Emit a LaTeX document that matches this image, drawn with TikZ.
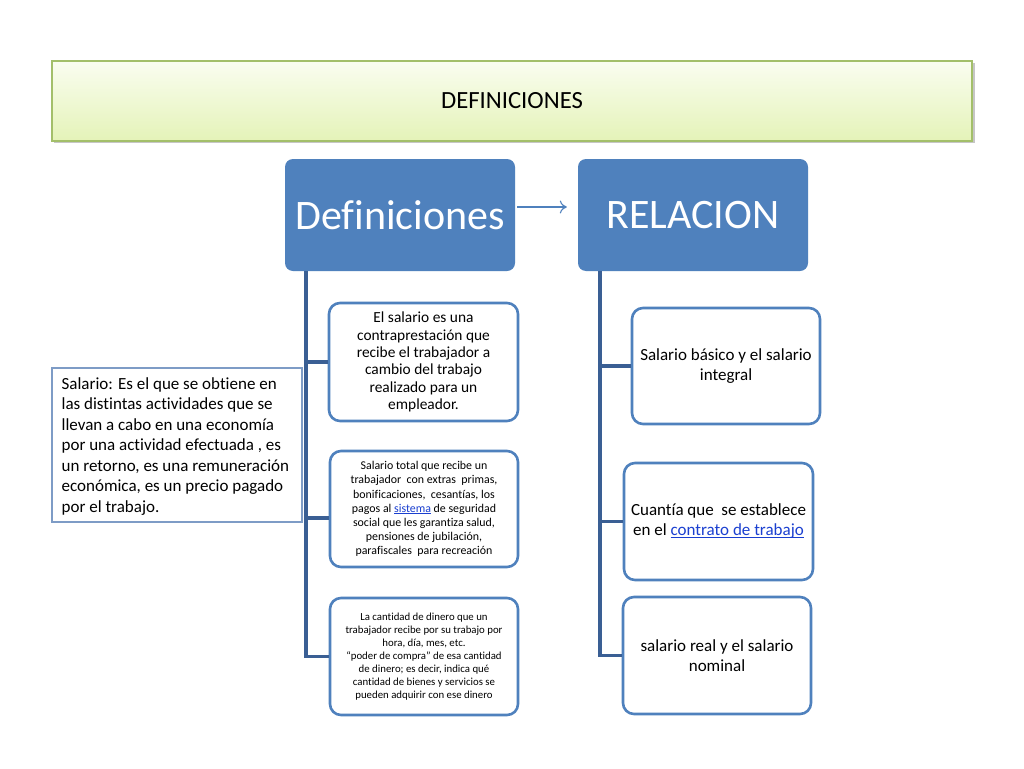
\documentclass[tikz,border=0pt]{standalone}
\usepackage{fontspec}
\setmainfont{Carlito}[Ligatures=NoCommon]
\usetikzlibrary{arrows.meta}
\definecolor{hdrblue}{HTML}{4F81BD}
\definecolor{treeblue}{HTML}{3A5F94}
\definecolor{linkblue}{HTML}{1A3FD0}
\definecolor{bartop}{HTML}{FAFDF0}
\definecolor{barbot}{HTML}{E4F3B8}
\definecolor{barline}{HTML}{A3BF6A}
\definecolor{thinbox}{HTML}{7E9CC6}
\tikzset{
  hdrbox/.style={draw=none, fill=hdrblue, rounded corners=8pt, minimum width=230pt, minimum height=112pt, text=white, font=\fontsize{42}{48}\selectfont},
  leafbox/.style={draw=hdrblue, line width=2.6pt, fill=white, rounded corners=11pt, minimum width=188pt, minimum height=116pt, align=center, inner sep=3pt},
  treeline/.style={draw=treeblue, line width=3.4pt},
}
\newcommand{\lnk}[1]{\textcolor{linkblue}{\sbox0{#1}\rlap{\rule[-0.12em]{\wd0}{0.06em}}\usebox0}}
\begin{document}
\begin{tikzpicture}[x=1pt,y=-1pt]
\useasboundingbox (0,0) rectangle (1024,768);
\fill[white] (0,0) rectangle (1024,768);
% title bar
\fill[gray!45] (54,63) rectangle (975,143);
\node[draw=barline, line width=2.5pt, top color=bartop, bottom color=barbot, minimum width=920pt, minimum height=80pt, inner sep=0pt, font=\fontsize{24.7}{29}\selectfont] (title) at (512,101) {DEFINICIONES};
% tree connectors
\coordinate (dl) at (306,271);
\coordinate (rl) at (600,271);
% headers
\node[hdrbox] (def) at (400,215) {Definiciones};
\node[hdrbox] (rel) at (693,215) {RELACION};
\draw[hdrblue, line width=1.1pt, -{To[length=7pt,width=13pt]}] ([xshift=2pt,yshift=8pt]def.east) -- ([xshift=-11pt,yshift=8pt]rel.west);
% leaf boxes
\node[leafbox, minimum width=189pt, minimum height=118pt, font=\fontsize{15.4}{17.4}\selectfont] (d1) at (423.5,362)
 {El salario es una\\contraprestación que\\recibe el trabajador a\\cambio del trabajo\\realizado para un\\empleador.};
\node[leafbox, font=\fontsize{11.9}{14.1}\selectfont] (d2) at (424,509)
 {Salario total que recibe un\\trabajador\ \ con extras\ \ primas,\\bonificaciones,\ \ cesantías, los\\pagos al \lnk{sistema} de seguridad\\social que les garantiza salud,\\pensiones de jubilación,\\parafiscales\ \ para recreación};
\node[leafbox, minimum height=117pt, font=\fontsize{10.8}{13.1}\selectfont] (d3) at (424,656.5)
 {La cantidad de dinero que un\\trabajador recibe por su trabajo por\\hora, día, mes, etc.\\“poder de compra” de esa cantidad\\de dinero; es decir, indica qué\\cantidad de bienes y servicios se\\pueden adquirir con ese dinero};
\node[leafbox, font=\fontsize{17}{20}\selectfont] (r1) at (726,366)
 {Salario básico y el salario\\integral};
\node[leafbox, minimum width=189pt, minimum height=117pt, font=\fontsize{17}{20}\selectfont] (r2) at (718.5,521.5)
 {Cuantía que\ \ se establece\\en el \lnk{contrato de trabajo}};
\node[leafbox, minimum height=117pt, font=\fontsize{17}{20}\selectfont] (r3) at (717,655.5)
 {salario real y el salario\\nominal};
% left text box
\node[draw=thinbox, line width=1.1pt, fill=white, minimum width=250pt, minimum height=154pt] (sal) at (177,445) {};
\node[anchor=north west, align=left, inner sep=0pt, font=\fontsize{17}{20.5}\selectfont] (saltext) at ([xshift=10pt,yshift=-10pt]sal.north west)
 {Salario: Es el que se obtiene en\\las distintas actividades que se\\llevan a cabo en una economía\\por una actividad efectuada , es\\un retorno, es una remuneración\\económica, es un precio pagado\\por el trabajo.};
% connectors
\draw[treeline] (dl) |- (d3.west);
\draw[treeline] (dl) |- (d1.west);
\draw[treeline] (dl) |- ([yshift=-9pt]d2.west);
\draw[treeline] (rl) |- (r1.west);
\draw[treeline] (rl) |- (r2.west);
\draw[treeline] (rl) |- (r3.west);
\end{tikzpicture}
\end{document}
